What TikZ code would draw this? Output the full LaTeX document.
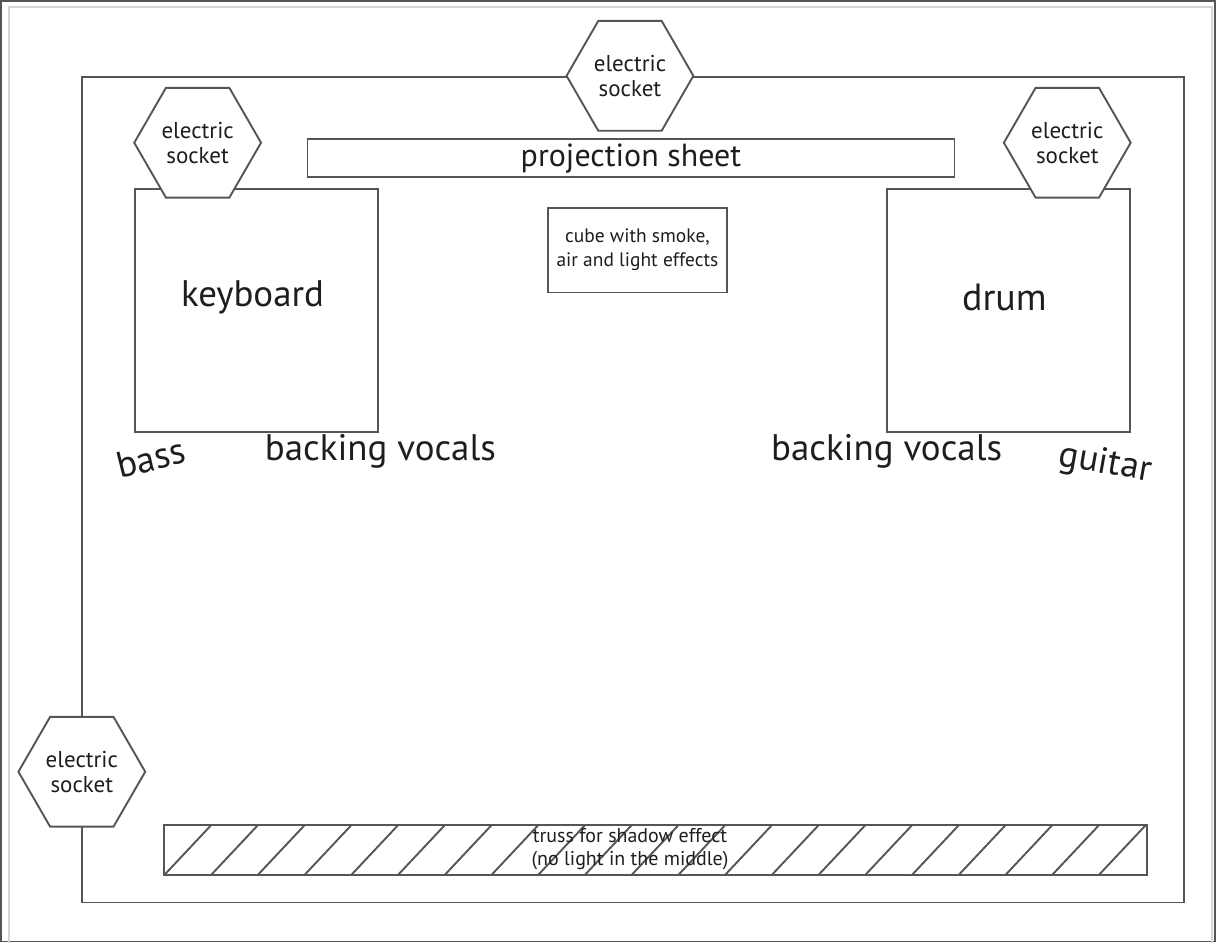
\documentclass[tikz,border=0pt]{standalone}
\usepackage{fontspec}
\setmainfont{PT Sans}
\usetikzlibrary{shapes.geometric}
\definecolor{stageline}{HTML}{555555}
\definecolor{framegray}{HTML}{D4D4D4}
\definecolor{inkgray}{HTML}{1E1E1E}
\tikzset{every path/.style={draw=stageline, line width=1.9pt},
  every node/.style={text=inkgray, inner sep=0pt, align=center},
  socket/.style={regular polygon, regular polygon sides=6, minimum size=127pt, draw=stageline, fill=white, font=\fontsize{23}{25}\selectfont},
  stagebox/.style={draw=stageline, fill=white}}

\begin{document}
\begin{tikzpicture}[x=1pt,y=-1pt]
   \useasboundingbox (0,0) rectangle (1216,942);
   \draw[framegray, line width=2.5pt] (8,945) -- (8,6) -- (1213,6) -- (1213,945);
   \draw (81,76) rectangle (1185,903);
   % props on stage
   \node[stagebox, minimum width=648pt, minimum height=38pt, font=\fontsize{32}{34}\selectfont] (sheet) at (631,157.5) {projection sheet};
   \node[stagebox, minimum width=244pt, minimum height=244pt] (keyboard) at (256,310) {};
   \node[font=\fontsize{37}{40}\selectfont] at (252,297) {keyboard};
   \node[stagebox, minimum width=244pt, minimum height=244pt] (drum) at (1009,310) {};
   \node[font=\fontsize{38}{40}\selectfont] at (1005,297) {drum};
   \node[stagebox, minimum width=179pt, minimum height=85pt, font=\fontsize{19.5}{24}\selectfont] (cube) at (637.5,249.5) {cube with smoke,\\air and light effects};
   % sockets
   \node[socket] (sockettop) at (630,75) {electric\\socket};
   \node[socket] (socketleft) at (197,142) {electric\\socket};
   \node[socket] (socketright) at (1068,142) {electric\\socket};
   \node[socket] (socketside) at (81,772) {electric\\socket};
   % players
   \node[font=\fontsize{37}{40}\selectfont] (vocalsl) at (380,451) {backing vocals};
   \node[font=\fontsize{37}{40}\selectfont] (vocalsr) at (887,451) {backing vocals};
   \node[font=\fontsize{37}{40}\selectfont, rotate=14] (bass) at (150,458) {bass};
   \node[font=\fontsize{37}{40}\selectfont, rotate=-10] (guitar) at (1106,464) {guitar};
   % truss
   \draw (163,825) rectangle (1148,875);
   \foreach \i in {0,...,20}
     \draw (164+46.8*\i,875) -- (211+46.8*\i,825);
   \node[font=\fontsize{20}{23}\selectfont] (truss) at (630,850) {truss for shadow effect\\(no light in the middle)};
\end{tikzpicture}
\end{document}
